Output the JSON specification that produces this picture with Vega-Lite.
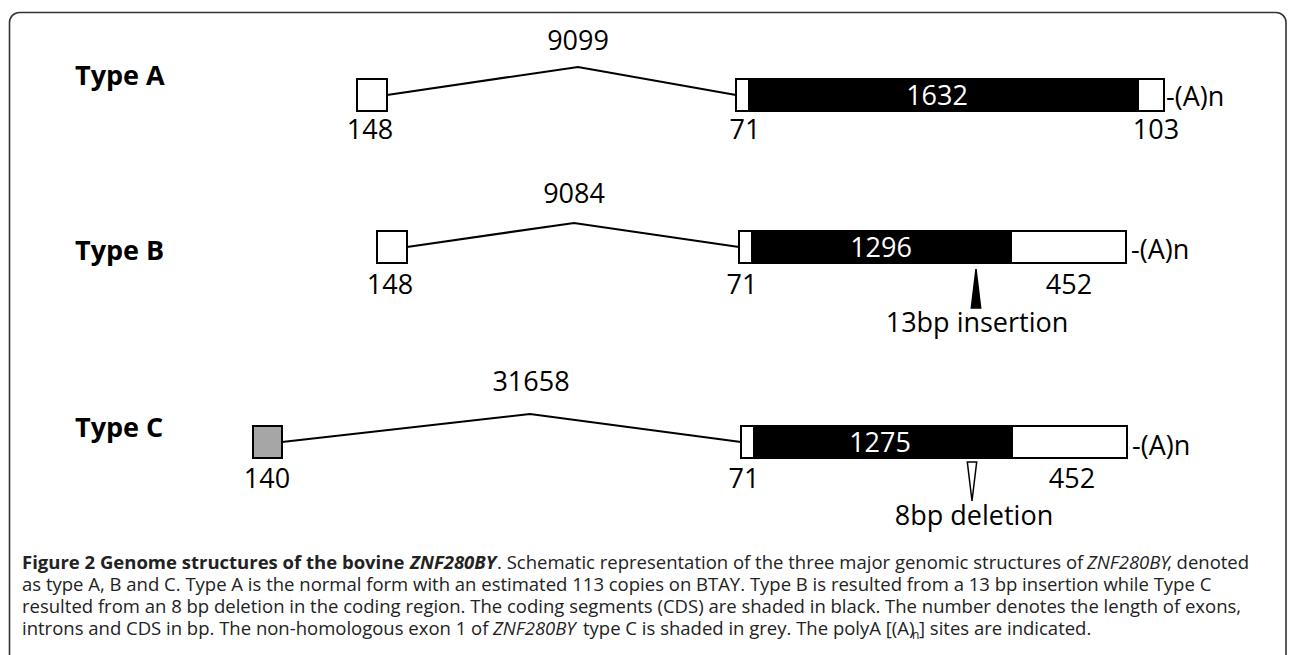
{
  "$schema": "https://vega.github.io/schema/vega-lite/v6.json",
  "width": 1292,
  "height": 655,
  "autosize": "none",
  "padding": 0,
  "background": "white",
  "config": {"view": {"stroke": null}},
  "datasets": {
    "frame": [{"x": 9.5, "y": 12.5, "x2": 1286, "y2": 720}],
    "introns": [
      {"type": "A", "x": 387, "y": 95}, {"type": "A", "x": 578, "y": 67}, {"type": "A", "x": 736, "y": 95},
      {"type": "B", "x": 407, "y": 247}, {"type": "B", "x": 574, "y": 223}, {"type": "B", "x": 739, "y": 247},
      {"type": "C", "x": 282, "y": 442}, {"type": "C", "x": 530, "y": 414}, {"type": "C", "x": 741, "y": 442}
    ],
    "exons": [
      {"type": "A", "region": "UTR", "x": 357, "x2": 387, "y": 79, "y2": 111},
      {"type": "A", "region": "UTR", "x": 736, "x2": 749, "y": 79, "y2": 111},
      {"type": "A", "region": "CDS", "x": 749, "x2": 1138, "y": 79, "y2": 111},
      {"type": "A", "region": "UTR", "x": 1138, "x2": 1164, "y": 79, "y2": 111},
      {"type": "B", "region": "UTR", "x": 377, "x2": 407, "y": 231, "y2": 263},
      {"type": "B", "region": "UTR", "x": 739, "x2": 752, "y": 231, "y2": 263},
      {"type": "B", "region": "CDS", "x": 752, "x2": 1011, "y": 231, "y2": 263},
      {"type": "B", "region": "UTR", "x": 1011, "x2": 1126, "y": 231, "y2": 263},
      {"type": "C", "region": "non-homologous exon 1", "x": 253, "x2": 282, "y": 426, "y2": 458},
      {"type": "C", "region": "UTR", "x": 741, "x2": 754, "y": 426, "y2": 458},
      {"type": "C", "region": "CDS", "x": 754, "x2": 1012, "y": 426, "y2": 458},
      {"type": "C", "region": "UTR", "x": 1012, "x2": 1127, "y": 426, "y2": 458}
    ],
    "typeLabels": [
      {"text": "Type A", "x": 75, "y": 85},
      {"text": "Type B", "x": 75, "y": 260},
      {"text": "Type C", "x": 75, "y": 437}
    ],
    "numbers": [
      {"text": "9099", "x": 578, "y": 50, "role": "length"},
      {"text": "9084", "x": 574, "y": 203, "role": "length"},
      {"text": "31658", "x": 531, "y": 391, "role": "length"},
      {"text": "148", "x": 370, "y": 139, "role": "length"},
      {"text": "71", "x": 745, "y": 139, "role": "length"},
      {"text": "103", "x": 1156, "y": 139, "role": "length"},
      {"text": "148", "x": 390, "y": 294, "role": "length"},
      {"text": "71", "x": 742, "y": 294, "role": "length"},
      {"text": "452", "x": 1069, "y": 294, "role": "length"},
      {"text": "140", "x": 267, "y": 488, "role": "length"},
      {"text": "71", "x": 744, "y": 488, "role": "length"},
      {"text": "452", "x": 1072, "y": 488, "role": "length"},
      {"text": "1632", "x": 937, "y": 105, "role": "cds"},
      {"text": "1296", "x": 881, "y": 257, "role": "cds"},
      {"text": "1275", "x": 880, "y": 452, "role": "cds"},
      {"text": "13bp insertion", "x": 977, "y": 332, "role": "length"},
      {"text": "8bp deletion", "x": 974, "y": 525, "role": "length"}
    ],
    "polyA": [
      {"text": "-(A)n", "x": 1166, "y": 106},
      {"text": "-(A)n", "x": 1131, "y": 259},
      {"text": "-(A)n", "x": 1132, "y": 455}
    ],
    "markers": [
      {"kind": "insertion", "x": 976, "y": 288.5},
      {"kind": "deletion", "x": 972, "y": 481.5}
    ],
    "caption": [
      {"style": "bold", "text": "Figure 2 Genome structures of the bovine", "x": 22, "y": 569},
      {"style": "bolditalic", "text": "ZNF280BY", "x": 410, "y": 569},
      {"style": "regular", "text": ". Schematic representation of the three major genomic structures of", "x": 497, "y": 569},
      {"style": "italic", "text": "ZNF280BY", "x": 1087, "y": 569},
      {"style": "regular", "text": ", denoted", "x": 1167, "y": 569},
      {"style": "regular", "text": "as type A, B and C. Type A is the normal form with an estimated 113 copies on BTAY. Type B is resulted from a 13 bp insertion while Type C", "x": 22, "y": 591},
      {"style": "regular", "text": "resulted from an 8 bp deletion in the coding region. The coding segments (CDS) are shaded in black. The number denotes the length of exons,", "x": 22, "y": 613},
      {"style": "regular", "text": "introns and CDS in bp. The non-homologous exon 1 of", "x": 22, "y": 635},
      {"style": "italic", "text": "ZNF280BY", "x": 493, "y": 635},
      {"style": "regular", "text": "type C is shaded in grey. The polyA [(A)", "x": 583, "y": 635},
      {"style": "sub", "text": "n", "x": 912, "y": 639},
      {"style": "regular", "text": "] sites are indicated.", "x": 919, "y": 635}
    ]
  },
  "encoding": {
    "x": {"field": "x", "type": "quantitative", "scale": {"domain": [0, 1292], "nice": false, "zero": false}, "axis": null},
    "y": {"field": "y", "type": "quantitative", "scale": {"domain": [0, 655], "nice": false, "zero": false, "reverse": true}, "axis": null}
  },
  "resolve": {"scale": {"fill": "independent", "color": "independent", "shape": "independent"}},
  "layer": [
    {
      "data": {"name": "frame"},
      "mark": {"type": "rect", "fill": null, "fillOpacity": 0, "stroke": "#333333", "strokeWidth": 1.6, "cornerRadius": 10},
      "encoding": {"x2": {"field": "x2"}, "y2": {"field": "y2"}}
    },
    {
      "data": {"name": "introns"},
      "mark": {"type": "line", "color": "black", "strokeWidth": 2.2},
      "encoding": {"detail": {"field": "type"}}
    },
    {
      "data": {"name": "exons"},
      "mark": {"type": "rect", "stroke": "black", "strokeWidth": 2},
      "encoding": {
        "x2": {"field": "x2"},
        "y2": {"field": "y2"},
        "fill": {"field": "region", "type": "nominal", "scale": {"domain": ["UTR", "CDS", "non-homologous exon 1"], "range": ["white", "black", "#a6a6a6"]}, "legend": null}
      }
    },
    {
      "data": {"name": "markers"},
      "mark": {"type": "point", "filled": true, "stroke": "black", "strokeWidth": 1.5, "size": 1521, "opacity": 1},
      "encoding": {
        "shape": {"field": "kind", "type": "nominal", "scale": {"domain": ["insertion", "deletion"], "range": ["M0,-1L0.24,1L-0.24,1Z", "M-0.24,-1L0.24,-1L0,1Z"]}, "legend": null},
        "fill": {"field": "kind", "type": "nominal", "scale": {"domain": ["insertion", "deletion"], "range": ["black", "white"]}, "legend": null}
      }
    },
    {
      "data": {"name": "typeLabels"},
      "mark": {"type": "text", "font": "Open Sans", "fontSize": 27, "fontWeight": "bold", "align": "left", "baseline": "alphabetic", "color": "black"},
      "encoding": {"text": {"field": "text"}}
    },
    {
      "data": {"name": "numbers"},
      "mark": {"type": "text", "font": "Open Sans", "fontSize": 27, "align": "center", "baseline": "alphabetic"},
      "encoding": {
        "text": {"field": "text"},
        "color": {"field": "role", "type": "nominal", "scale": {"domain": ["length", "cds"], "range": ["black", "white"]}, "legend": null}
      }
    },
    {
      "data": {"name": "polyA"},
      "mark": {"type": "text", "font": "Open Sans", "fontSize": 27, "align": "left", "baseline": "alphabetic", "color": "black"},
      "encoding": {"text": {"field": "text"}}
    },
    {
      "data": {"name": "caption"},
      "transform": [{"filter": "datum.style == 'regular'"}],
      "mark": {"type": "text", "font": "Open Sans", "fontSize": 18.5, "align": "left", "baseline": "alphabetic", "color": "#222222"},
      "encoding": {"text": {"field": "text"}}
    },
    {
      "data": {"name": "caption"},
      "transform": [{"filter": "datum.style == 'bold'"}],
      "mark": {"type": "text", "font": "Open Sans", "fontSize": 18.5, "fontWeight": "bold", "align": "left", "baseline": "alphabetic", "color": "#222222"},
      "encoding": {"text": {"field": "text"}}
    },
    {
      "data": {"name": "caption"},
      "transform": [{"filter": "datum.style == 'italic'"}],
      "mark": {"type": "text", "font": "Open Sans", "fontSize": 18.5, "fontStyle": "italic", "align": "left", "baseline": "alphabetic", "color": "#222222"},
      "encoding": {"text": {"field": "text"}}
    },
    {
      "data": {"name": "caption"},
      "transform": [{"filter": "datum.style == 'bolditalic'"}],
      "mark": {"type": "text", "font": "Open Sans", "fontSize": 18.5, "fontWeight": "bold", "fontStyle": "italic", "align": "left", "baseline": "alphabetic", "color": "#222222"},
      "encoding": {"text": {"field": "text"}}
    },
    {
      "data": {"name": "caption"},
      "transform": [{"filter": "datum.style == 'sub'"}],
      "mark": {"type": "text", "font": "Open Sans", "fontSize": 12, "align": "left", "baseline": "alphabetic", "color": "#222222"},
      "encoding": {"text": {"field": "text"}}
    }
  ]
}
